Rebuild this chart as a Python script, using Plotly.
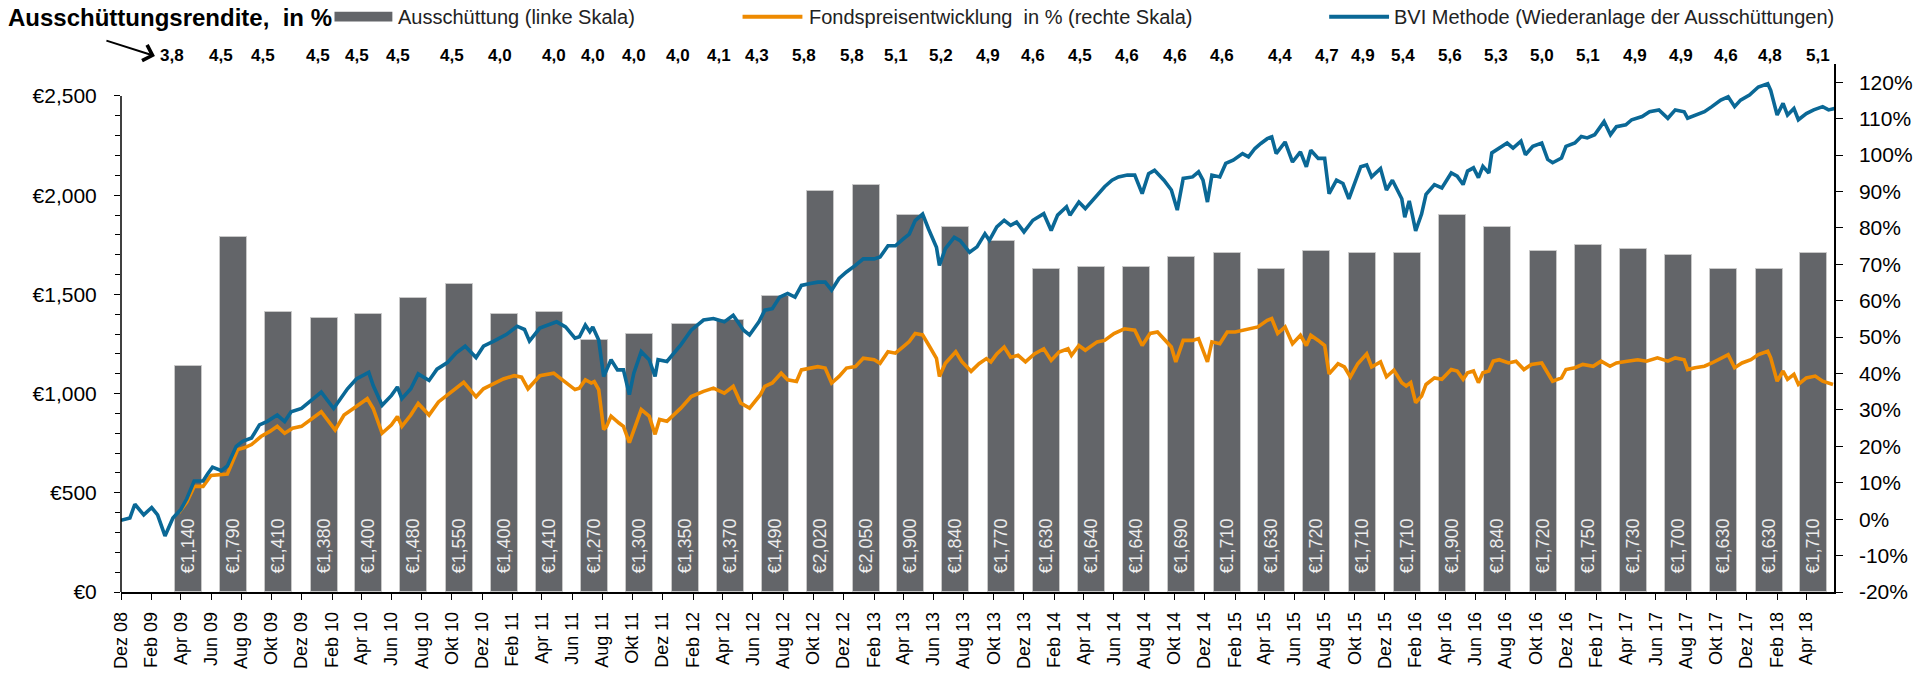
import plotly.graph_objects as go

# ---------------- data ----------------
distribution_eur = [1140, 1790, 1410, 1380, 1400, 1480, 1550, 1400, 1410, 1270, 1300, 1350, 1370,
                    1490, 2020, 2050, 1900, 1840, 1770, 1630, 1640, 1640, 1690, 1710, 1630, 1720,
                    1710, 1710, 1900, 1840, 1720, 1750, 1730, 1700, 1630, 1630, 1710]
yield_labels = ["3,8", "4,5", "4,5", "4,5", "4,5", "4,5", "4,5", "4,0", "4,0", "4,0", "4,0", "4,0",
                "4,1", "4,3", "5,8", "5,8", "5,1", "5,2", "4,9", "4,6", "4,5", "4,6", "4,6", "4,6", "4,4",
                "4,7", "4,9", "5,4", "5,6", "5,3", "5,0", "5,1", "4,9", "4,9", "4,6", "4,8", "5,1"]
# quarterly distribution dates (Apr 2009 ... Apr 2018)
bar_dates = [f"{2009 + (3 + 3 * i) // 12}-{(3 + 3 * i) % 12 + 1:02d}-16" for i in range(len(distribution_eur))]

bvi_series = [
    ("2008-12-01", -0.3), ("2008-12-19", 0.3), ("2008-12-29", 4.1), ("2009-01-16", 1.2), ("2009-02-01", 3.2),
    ("2009-02-13", 1.2), ("2009-02-28", -4.6), ("2009-03-16", 0.3), ("2009-04-01", 2.7), ("2009-04-13", 5.6),
    ("2009-04-28", 10.5), ("2009-05-16", 10.5), ("2009-05-25", 12.4), ("2009-06-04", 14.3), ("2009-06-22", 13.3),
    ("2009-07-04", 14.6), ("2009-07-22", 20.0), ("2009-08-04", 21.4), ("2009-08-22", 22.3), ("2009-09-07", 25.9),
    ("2009-09-22", 26.8), ("2009-10-13", 28.6), ("2009-10-28", 26.8), ("2009-11-10", 29.5), ("2009-12-01", 30.4),
    ("2009-12-22", 32.7), ("2010-01-10", 34.9), ("2010-02-04", 30.4), ("2010-02-19", 33.1), ("2010-03-04", 35.8),
    ("2010-03-22", 38.5), ("2010-04-16", 40.3), ("2010-04-25", 36.7), ("2010-05-13", 31.3), ("2010-06-01", 34.0),
    ("2010-06-13", 36.3), ("2010-06-22", 33.1), ("2010-07-10", 35.8), ("2010-07-25", 39.9), ("2010-08-16", 38.1),
    ("2010-09-01", 41.2), ("2010-09-22", 43.0), ("2010-10-10", 45.7), ("2010-10-28", 47.5), ("2010-11-19", 44.4),
    ("2010-12-04", 47.5), ("2010-12-25", 48.9), ("2011-01-19", 50.7), ("2011-02-10", 53.0), ("2011-02-25", 52.1),
    ("2011-03-07", 48.9), ("2011-03-28", 52.5), ("2011-05-01", 54.2), ("2011-05-19", 52.8), ("2011-06-07", 49.7),
    ("2011-06-16", 50.1), ("2011-06-28", 53.3), ("2011-07-07", 51.5), ("2011-07-13", 52.8), ("2011-07-25", 49.2),
    ("2011-08-04", 39.2), ("2011-08-10", 41.0), ("2011-08-19", 43.8), ("2011-09-01", 41.0), ("2011-09-13", 41.0),
    ("2011-09-25", 34.2), ("2011-10-04", 40.1), ("2011-10-19", 46.0), ("2011-11-04", 43.8), ("2011-11-16", 39.2),
    ("2011-11-22", 43.8), ("2011-12-10", 43.3), ("2012-01-07", 47.9), ("2012-01-28", 51.9), ("2012-02-22", 54.7),
    ("2012-03-13", 55.1), ("2012-04-04", 54.2), ("2012-04-22", 56.0), ("2012-05-13", 51.9), ("2012-05-25", 50.6),
    ("2012-06-13", 54.2), ("2012-06-25", 57.4), ("2012-07-10", 57.8), ("2012-07-25", 61.0), ("2012-08-10", 62.0),
    ("2012-08-25", 61.0), ("2012-09-07", 64.2), ("2012-09-25", 64.7), ("2012-10-10", 65.1), ("2012-10-25", 65.1),
    ("2012-11-07", 62.9), ("2012-11-22", 66.1), ("2012-12-07", 67.9), ("2012-12-25", 69.7), ("2013-01-10", 71.5),
    ("2013-02-01", 71.5), ("2013-02-13", 72.0), ("2013-03-01", 75.1), ("2013-03-16", 75.1), ("2013-04-01", 77.0),
    ("2013-04-13", 78.3), ("2013-04-25", 82.0), ("2013-05-10", 83.8), ("2013-05-22", 79.7), ("2013-06-07", 74.7),
    ("2013-06-13", 69.7), ("2013-06-25", 74.3), ("2013-07-13", 77.4), ("2013-07-25", 76.5), ("2013-08-13", 73.3),
    ("2013-08-28", 74.8), ("2013-09-13", 78.4), ("2013-09-22", 76.6), ("2013-10-07", 80.3), ("2013-10-22", 82.1),
    ("2013-11-04", 80.7), ("2013-11-16", 81.6), ("2013-12-01", 78.9), ("2013-12-19", 82.1), ("2014-01-10", 83.9),
    ("2014-01-25", 79.3), ("2014-02-07", 83.5), ("2014-02-25", 85.8), ("2014-03-04", 83.5), ("2014-03-22", 87.1),
    ("2014-04-04", 85.3), ("2014-04-28", 89.0), ("2014-05-13", 91.3), ("2014-05-28", 93.1), ("2014-06-10", 94.0),
    ("2014-06-28", 94.5), ("2014-07-13", 94.5), ("2014-07-28", 89.4), ("2014-08-10", 94.9), ("2014-08-22", 95.8),
    ("2014-09-10", 93.1), ("2014-09-25", 90.4), ("2014-10-07", 84.9), ("2014-10-19", 93.6), ("2014-11-07", 94.0),
    ("2014-11-19", 95.4), ("2014-11-28", 93.1), ("2014-12-07", 87.1), ("2014-12-16", 94.5), ("2015-01-01", 94.0),
    ("2015-01-13", 97.7), ("2015-01-28", 98.6), ("2015-02-16", 100.4), ("2015-02-28", 99.5), ("2015-03-13", 101.8),
    ("2015-03-25", 103.2), ("2015-04-07", 104.5), ("2015-04-16", 105.0), ("2015-04-25", 100.4), ("2015-05-13", 103.6),
    ("2015-05-28", 98.1), ("2015-06-13", 100.9), ("2015-06-25", 96.8), ("2015-07-04", 101.3), ("2015-07-19", 99.1),
    ("2015-08-01", 99.1), ("2015-08-10", 89.4), ("2015-08-25", 93.1), ("2015-09-07", 92.2), ("2015-09-19", 88.0),
    ("2015-10-01", 92.2), ("2015-10-13", 96.8), ("2015-10-25", 97.3), ("2015-11-04", 94.0), ("2015-11-22", 96.3),
    ("2015-12-04", 90.4), ("2015-12-16", 93.1), ("2016-01-04", 88.0), ("2016-01-10", 82.9), ("2016-01-19", 87.4),
    ("2016-01-25", 83.8), ("2016-02-01", 79.2), ("2016-02-13", 83.8), ("2016-02-22", 89.2), ("2016-03-10", 91.9),
    ("2016-03-25", 91.0), ("2016-04-13", 95.1), ("2016-04-25", 94.2), ("2016-05-07", 91.9), ("2016-05-16", 95.6),
    ("2016-05-28", 96.5), ("2016-06-07", 93.8), ("2016-06-16", 96.9), ("2016-06-28", 95.1), ("2016-07-04", 100.6),
    ("2016-07-19", 101.9), ("2016-08-04", 103.3), ("2016-08-16", 101.9), ("2016-09-01", 103.8), ("2016-09-10", 100.1),
    ("2016-09-25", 102.4), ("2016-10-13", 103.3), ("2016-10-25", 98.8), ("2016-11-04", 97.9), ("2016-11-22", 99.2),
    ("2016-12-01", 102.4), ("2016-12-19", 103.3), ("2017-01-01", 105.1), ("2017-01-13", 104.7), ("2017-01-28", 105.6),
    ("2017-02-16", 109.2), ("2017-03-01", 105.6), ("2017-03-13", 107.8), ("2017-04-01", 108.3), ("2017-04-13", 109.7),
    ("2017-05-04", 110.6), ("2017-05-19", 111.9), ("2017-06-07", 112.4), ("2017-06-25", 110.1), ("2017-07-10", 112.4),
    ("2017-07-28", 111.9), ("2017-08-04", 110.1), ("2017-08-19", 111.0), ("2017-09-07", 111.9), ("2017-09-22", 113.3),
    ("2017-10-10", 115.1), ("2017-10-25", 116.0), ("2017-11-07", 113.3), ("2017-11-19", 115.1), ("2017-12-07", 116.5),
    ("2017-12-25", 118.7), ("2018-01-13", 119.6), ("2018-01-19", 117.8), ("2018-02-01", 111.0), ("2018-02-13", 114.2),
    ("2018-02-22", 111.0), ("2018-03-07", 112.8), ("2018-03-16", 109.7), ("2018-04-01", 111.4), ("2018-04-16", 112.4),
    ("2018-05-04", 113.3), ("2018-05-16", 112.4), ("2018-05-28", 112.8),
]

price_series = [
    ("2009-03-28", 1.8), ("2009-04-13", 4.7), ("2009-04-28", 9.0), ("2009-05-16", 9.0), ("2009-06-01", 12.0),
    ("2009-06-19", 12.2), ("2009-07-04", 12.4), ("2009-07-25", 19.1), ("2009-08-07", 19.6), ("2009-08-22", 20.5),
    ("2009-09-10", 22.7), ("2009-09-28", 24.1), ("2009-10-13", 25.5), ("2009-10-28", 23.6), ("2009-11-13", 25.0),
    ("2009-12-01", 25.5), ("2009-12-22", 27.7), ("2010-01-10", 29.5), ("2010-02-07", 24.5), ("2010-02-25", 28.6),
    ("2010-03-16", 30.4), ("2010-04-13", 33.1), ("2010-04-25", 30.4), ("2010-05-13", 23.6), ("2010-06-01", 25.9),
    ("2010-06-13", 28.2), ("2010-06-22", 25.5), ("2010-07-10", 28.6), ("2010-07-25", 31.8), ("2010-08-16", 28.6),
    ("2010-09-04", 32.2), ("2010-09-22", 34.0), ("2010-10-10", 35.8), ("2010-10-25", 37.6), ("2010-11-19", 33.6),
    ("2010-12-04", 35.8), ("2010-12-25", 37.2), ("2011-01-13", 38.5), ("2011-02-04", 39.4), ("2011-02-19", 39.0),
    ("2011-03-04", 35.8), ("2011-03-28", 39.4), ("2011-04-25", 40.1), ("2011-05-13", 38.3), ("2011-06-07", 35.6),
    ("2011-06-16", 36.0), ("2011-06-28", 38.3), ("2011-07-10", 37.4), ("2011-07-16", 37.8), ("2011-07-25", 35.6),
    ("2011-08-04", 24.6), ("2011-08-10", 25.5), ("2011-08-19", 28.3), ("2011-09-04", 26.4), ("2011-09-13", 25.5),
    ("2011-09-25", 21.0), ("2011-10-07", 25.5), ("2011-10-19", 30.1), ("2011-11-04", 28.3), ("2011-11-16", 23.3),
    ("2011-11-25", 27.4), ("2011-12-10", 26.9), ("2012-01-07", 30.5), ("2012-01-28", 33.7), ("2012-02-22", 35.1),
    ("2012-03-13", 36.0), ("2012-04-04", 34.6), ("2012-04-22", 36.5), ("2012-05-07", 31.9), ("2012-05-25", 30.5),
    ("2012-06-16", 34.2), ("2012-06-25", 36.5), ("2012-07-10", 37.4), ("2012-07-28", 40.1), ("2012-08-10", 38.3),
    ("2012-08-28", 37.8), ("2012-09-07", 41.0), ("2012-09-25", 41.5), ("2012-10-10", 41.9), ("2012-10-25", 41.5),
    ("2012-11-07", 37.4), ("2012-11-22", 39.2), ("2012-12-07", 41.5), ("2012-12-25", 41.9), ("2013-01-10", 44.2),
    ("2013-02-01", 43.8), ("2013-02-13", 42.8), ("2013-03-01", 46.0), ("2013-03-16", 45.6), ("2013-04-01", 47.4),
    ("2013-04-13", 48.8), ("2013-04-25", 51.0), ("2013-05-10", 50.6), ("2013-05-22", 47.9), ("2013-06-07", 44.2),
    ("2013-06-13", 39.2), ("2013-06-25", 42.8), ("2013-07-16", 46.0), ("2013-07-28", 43.3), ("2013-08-16", 40.6),
    ("2013-09-01", 42.7), ("2013-09-16", 44.1), ("2013-09-25", 43.2), ("2013-10-07", 45.4), ("2013-10-22", 47.3),
    ("2013-11-04", 44.5), ("2013-11-19", 45.0), ("2013-12-04", 43.2), ("2013-12-22", 45.4), ("2014-01-10", 46.8),
    ("2014-01-25", 43.6), ("2014-02-10", 45.9), ("2014-02-28", 46.8), ("2014-03-07", 45.0), ("2014-03-22", 47.7),
    ("2014-04-04", 46.4), ("2014-04-28", 48.7), ("2014-05-13", 49.1), ("2014-06-01", 51.0), ("2014-06-22", 52.3),
    ("2014-07-13", 51.9), ("2014-07-28", 47.7), ("2014-08-13", 51.0), ("2014-08-28", 51.4), ("2014-09-10", 49.6),
    ("2014-09-25", 47.3), ("2014-10-04", 43.2), ("2014-10-19", 49.1), ("2014-11-07", 49.1), ("2014-11-19", 49.6),
    ("2014-12-07", 43.2), ("2014-12-16", 48.7), ("2015-01-01", 48.2), ("2015-01-16", 51.4), ("2015-02-01", 51.4),
    ("2015-02-16", 51.9), ("2015-03-01", 52.3), ("2015-03-19", 52.8), ("2015-04-07", 54.6), ("2015-04-16", 55.1),
    ("2015-04-28", 51.0), ("2015-05-13", 52.8), ("2015-05-28", 48.2), ("2015-06-13", 50.5), ("2015-06-25", 47.7),
    ("2015-07-04", 50.5), ("2015-07-19", 49.1), ("2015-08-01", 47.7), ("2015-08-10", 39.9), ("2015-08-28", 42.7),
    ("2015-09-10", 41.8), ("2015-09-22", 39.1), ("2015-10-07", 42.7), ("2015-10-25", 45.4), ("2015-11-04", 41.8),
    ("2015-11-22", 43.2), ("2015-12-04", 39.1), ("2015-12-19", 40.9), ("2016-01-04", 37.5), ("2016-01-13", 36.6),
    ("2016-01-22", 37.5), ("2016-02-01", 32.0), ("2016-02-13", 33.8), ("2016-02-22", 37.0), ("2016-03-10", 38.8),
    ("2016-03-25", 38.4), ("2016-04-13", 41.1), ("2016-04-25", 40.7), ("2016-05-07", 38.4), ("2016-05-16", 40.2),
    ("2016-05-28", 40.7), ("2016-06-07", 37.5), ("2016-06-16", 40.2), ("2016-06-28", 40.7), ("2016-07-07", 43.4),
    ("2016-07-19", 43.8), ("2016-08-07", 42.9), ("2016-08-22", 43.4), ("2016-09-07", 41.1), ("2016-09-22", 42.5),
    ("2016-10-13", 42.9), ("2016-10-22", 40.7), ("2016-11-04", 37.9), ("2016-11-22", 38.8), ("2016-12-01", 41.1),
    ("2016-12-19", 41.6), ("2017-01-04", 42.5), ("2017-01-25", 42.0), ("2017-02-10", 43.4), ("2017-02-28", 42.0),
    ("2017-03-13", 42.9), ("2017-04-04", 43.4), ("2017-04-25", 43.8), ("2017-05-13", 43.4), ("2017-06-04", 44.3),
    ("2017-06-25", 43.4), ("2017-07-10", 44.3), ("2017-07-28", 43.8), ("2017-08-04", 41.1), ("2017-08-19", 41.6),
    ("2017-09-07", 42.0), ("2017-09-22", 42.9), ("2017-10-10", 44.3), ("2017-10-25", 45.2), ("2017-11-07", 41.6),
    ("2017-11-22", 42.9), ("2017-12-10", 43.8), ("2017-12-25", 45.2), ("2018-01-13", 46.1), ("2018-01-19", 44.3),
    ("2018-02-01", 37.9), ("2018-02-13", 40.7), ("2018-02-22", 38.4), ("2018-03-07", 39.8), ("2018-03-16", 37.0),
    ("2018-04-01", 38.8), ("2018-04-19", 39.3), ("2018-05-04", 37.9), ("2018-05-25", 37.0),
]

german_months = {2: "Feb", 4: "Apr", 6: "Jun", 8: "Aug", 10: "Okt", 12: "Dez"}
tick_dates, tick_labels = [], []
y, m = 2008, 12
while (y, m) <= (2018, 4):
    tick_dates.append(f"{y}-{m:02d}-01")
    tick_labels.append(f"{german_months[m]} {y % 100:02d}")
    m += 2
    if m > 12:
        m -= 12
        y += 1

left_ticks = [0, 500, 1000, 1500, 2000, 2500]
right_ticks = list(range(-20, 130, 10))

# ---------------- layout (pixel geometry) ----------------
FONT = "Arial, Liberation Sans, sans-serif"
W, H = 1925, 681
PL, PR, PT, PB = 121, 1838, 64, 599      # plot area in pixels
Y2500, Y120 = 96.4, 82.5                 # pixel rows of the top ticks
BAR_COLOR = "#636569"
ORANGE = "#EE8A00"
BLUE = "#0A6896"
# horizontal pixel centres of the yield labels (hand-placed text boxes in the original)
yield_label_px = [172, 221, 263, 318, 358, 399, 453, 501, 555, 594, 635, 679,
                  720, 758, 806, 854, 898, 943, 990, 1035, 1082, 1129, 1177, 1225, 1283,
                  1330, 1366, 1406, 1453, 1499, 1545, 1591, 1639, 1685, 1730, 1774, 1822]


def px(xpix):
    return (xpix - PL) / (PR - PL)


def py(ypix):
    return (PB - ypix) / (PB - PT)


left_top = 2500 * (PB - PT) / (PB - Y2500)
right_top = 120 + (Y120 - PT) * 140 / (PB - Y120)

bvi_x = [d for d, _ in bvi_series]
bvi_y = [v for _, v in bvi_series]
price_x = [d for d, _ in price_series]
price_y = [v for _, v in price_series]

fig = go.Figure()
fig.add_trace(go.Bar(
    x=bar_dates, y=distribution_eur, width=54.5 * 86400000,
    marker=dict(color=BAR_COLOR, line=dict(color="#c8c8c8", width=1)),
    text=["\u00a0\u00a0\u00a0€" + f"{v:,}" for v in distribution_eur],
    textposition="inside", insidetextanchor="start", textangle=-90,
    insidetextfont=dict(color="#ececec", size=18, family=FONT),
    showlegend=False, hoverinfo="skip",
))
fig.add_trace(go.Scatter(x=price_x, y=price_y, yaxis="y2", mode="lines",
                         line=dict(color=ORANGE, width=3.6), showlegend=False))
fig.add_trace(go.Scatter(x=bvi_x, y=bvi_y, yaxis="y2", mode="lines",
                         line=dict(color=BLUE, width=3.6), showlegend=False))

annotations = []
for xp, lab in zip(yield_label_px, yield_labels):
    annotations.append(dict(x=px(xp), xref="paper", y=py(55), yref="paper", text=lab, showarrow=False,
                            font=dict(family=FONT, size=17, color="black", weight="bold"),
                            xanchor="center", yanchor="middle"))

annotations.append(dict(x=px(6), y=py(17), xref="paper", yref="paper", xanchor="left", yanchor="middle",
                        text="Ausschüttungsrendite,\u00a0 in %", showarrow=False,
                        font=dict(family=FONT, size=24, color="black", weight="bold")))
annotations.append(dict(x=px(397), y=py(16), xref="paper", yref="paper", xanchor="left", yanchor="middle",
                        text="Ausschüttung (linke Skala)", showarrow=False,
                        font=dict(family=FONT, size=20, color="#222")))
annotations.append(dict(x=px(809), y=py(16), xref="paper", yref="paper", xanchor="left", yanchor="middle",
                        text="Fondspreisentwicklung\u00a0 in % (rechte Skala)", showarrow=False,
                        font=dict(family=FONT, size=20, color="#222")))
annotations.append(dict(x=px(1395), y=py(16), xref="paper", yref="paper", xanchor="left", yanchor="middle",
                        text="BVI Methode (Wiederanlage der Ausschüttungen)", showarrow=False,
                        font=dict(family=FONT, size=20, color="#222")))
# arrow pointing at the yield row
annotations.append(dict(x=px(155), y=py(56), xref="paper", yref="paper", text="", showarrow=True,
                        ax=-50, ay=-16, arrowhead=4, arrowsize=1.6, arrowwidth=2, arrowcolor="black"))

shapes = [
    dict(type="rect", xref="paper", yref="paper", x0=px(335), x1=px(393), y0=py(21), y1=py(11),
         fillcolor=BAR_COLOR, line=dict(width=0)),
    dict(type="line", xref="paper", yref="paper", x0=px(744), x1=px(804), y0=py(16), y1=py(16),
         line=dict(color=ORANGE, width=4)),
    dict(type="line", xref="paper", yref="paper", x0=px(1332), x1=px(1392), y0=py(16), y1=py(16),
         line=dict(color=BLUE, width=4)),
    # left axis line only up to the top tick
    dict(type="line", xref="paper", yref="y", x0=0, x1=0, y0=0, y1=2500,
         line=dict(color="black", width=1.5)),
]

fig.update_layout(
    width=W, height=H, autosize=False,
    margin=dict(l=PL, r=W - PR, t=PT, b=H - PB, pad=0),
    paper_bgcolor="white", plot_bgcolor="white",
    font=dict(family=FONT, size=20, color="black"),
    bargap=0,
    xaxis=dict(type="date", range=["2008-12-01", "2018-05-27"], tickvals=tick_dates, ticktext=tick_labels,
               tickangle=-90, ticks="outside", ticklen=6, tickcolor="black", tickwidth=1,
               showline=True, linecolor="black", linewidth=1.5, showgrid=False, zeroline=False,
               ticklabelstandoff=5,
               tickfont=dict(size=18, color="black", family=FONT)),
    yaxis=dict(range=[0, left_top], tickvals=left_ticks, ticktext=[f"€{v:,}" for v in left_ticks],
               ticks="outside", ticklen=6, tickcolor="black", showline=False, showgrid=False, zeroline=False,
               ticklabelstandoff=13,
               minor=dict(tickvals=[v for v in range(100, 2500, 100) if v % 500], ticks="outside",
                          ticklen=5, tickcolor="black", showgrid=False),
               tickfont=dict(size=21, color="black", family=FONT)),
    yaxis2=dict(overlaying="y", side="right", range=[-20, right_top], tickvals=right_ticks,
                ticktext=[f"{v}%" for v in right_ticks], ticks="outside", ticklen=7, tickcolor="black",
                showline=True, linecolor="black", linewidth=1.5, showgrid=False, zeroline=False,
                ticklabelstandoff=12,
                tickfont=dict(size=21, color="black", family=FONT)),
    annotations=annotations,
    shapes=shapes,
)

fig.write_html("out.html",
               config={"displayModeBar": False},
               post_script="document.body.style.margin='0';document.body.style.overflow='hidden';")
